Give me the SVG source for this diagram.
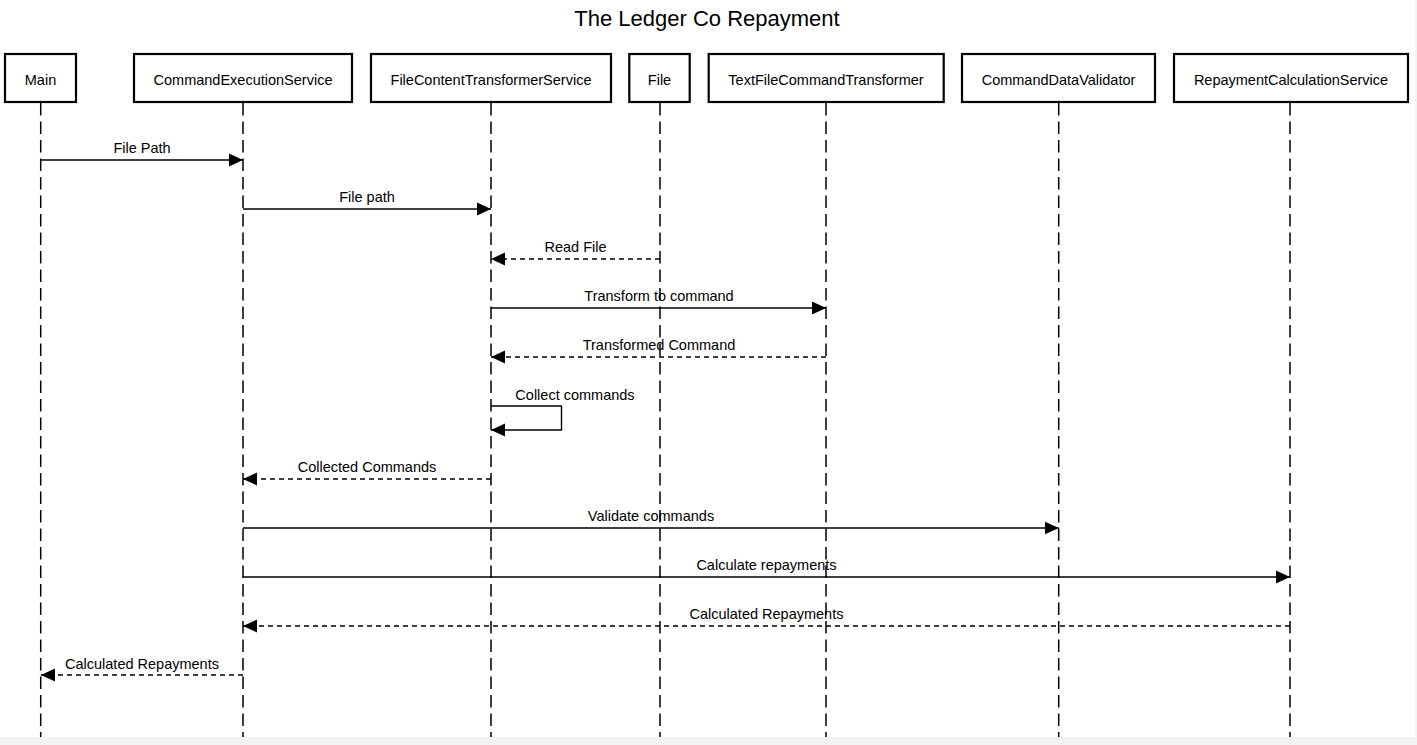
<svg xmlns="http://www.w3.org/2000/svg" width="1417" height="745" viewBox="0 0 1417 745">
<style>
text{font-family:"Liberation Sans",Arial,Helvetica,sans-serif;fill:#000}
.box{fill:#fff;stroke:#000;stroke-width:2.2}
.name{font-size:14.5px;text-anchor:middle}
.life{stroke:#000;stroke-width:1.5;stroke-dasharray:12.5 6;fill:none}
.msg{stroke:#000;stroke-width:1.4;fill:none}
.ret{stroke:#000;stroke-width:1.4;fill:none;stroke-dasharray:5 4}
.lbl{font-size:14.5px;text-anchor:middle}
</style>
<defs>
<marker id="ah" markerUnits="userSpaceOnUse" markerWidth="15" markerHeight="14" refX="14" refY="7" orient="auto">
<path d="M0,0.5 L14,7 L0,13.5 z" fill="#000"/>
</marker>
</defs>
<rect x="0" y="0" width="1417" height="745" fill="#fff"/>
<rect x="0" y="737" width="1417" height="8" fill="#f3f3f3"/>
<rect x="1415" y="0" width="2" height="737" fill="#f5f5f5"/>
<text x="707" y="26" font-size="22" text-anchor="middle">The Ledger Co Repayment</text>

<g id="lifelines">
<line class="life" x1="40.7" y1="103" x2="40.7" y2="737"/>
<line class="life" x1="243" y1="103" x2="243" y2="737"/>
<line class="life" x1="491" y1="103" x2="491" y2="737"/>
<line class="life" x1="660" y1="103" x2="660" y2="737"/>
<line class="life" x1="826" y1="103" x2="826" y2="737"/>
<line class="life" x1="1058.7" y1="103" x2="1058.7" y2="737"/>
<line class="life" x1="1290" y1="103" x2="1290" y2="737"/>
</g>

<g id="main"><rect class="box" x="5" y="54" width="71" height="48"/><text class="name" x="40.5" y="84.5">Main</text></g>
<g id="commandExecutionService"><rect class="box" x="134" y="54" width="218" height="48"/><text class="name" x="243" y="84.5">CommandExecutionService</text></g>
<g id="fileContentTransformerService"><rect class="box" x="371" y="54" width="240" height="48"/><text class="name" x="491" y="84.5">FileContentTransformerService</text></g>
<g id="file"><rect class="box" x="629.3" y="54" width="60.4" height="48"/><text class="name" x="659.5" y="84.5">File</text></g>
<g id="textFileCommandTransformer"><rect class="box" x="708.7" y="54" width="235" height="48"/><text class="name" x="826" y="84.5">TextFileCommandTransformer</text></g>
<g id="commandDataValidator"><rect class="box" x="962" y="54" width="193" height="48"/><text class="name" x="1058.5" y="84.5">CommandDataValidator</text></g>
<g id="repaymentCalculationService"><rect class="box" x="1174" y="54" width="234" height="48"/><text class="name" x="1291" y="84.5">RepaymentCalculationService</text></g>

<g id="connectors">
<line class="msg" x1="41" y1="160" x2="243" y2="160" marker-end="url(#ah)"/>
<text class="lbl" x="142" y="152.5">File Path</text>
<line class="msg" x1="243" y1="209" x2="491" y2="209" marker-end="url(#ah)"/>
<text class="lbl" x="367" y="202">File path</text>
<line class="ret" x1="660" y1="259" x2="491" y2="259" marker-end="url(#ah)"/>
<text class="lbl" x="575.5" y="251.5">Read File</text>
<line class="msg" x1="491" y1="308" x2="826" y2="308" marker-end="url(#ah)"/>
<text class="lbl" x="659" y="300.5">Transform to command</text>
<line class="ret" x1="826" y1="357" x2="491" y2="357" marker-end="url(#ah)"/>
<text class="lbl" x="659" y="349.5">Transformed Command</text>
<path class="msg" d="M491,406 H561.5 V430 H491" marker-end="url(#ah)"/>
<text class="lbl" x="575" y="400">Collect commands</text>
<line class="ret" x1="491" y1="479" x2="243" y2="479" marker-end="url(#ah)"/>
<text class="lbl" x="367" y="471.5">Collected Commands</text>
<line class="msg" x1="243" y1="528" x2="1058.7" y2="528" marker-end="url(#ah)"/>
<text class="lbl" x="651" y="520.5">Validate commands</text>
<line class="msg" x1="243" y1="577" x2="1290" y2="577" marker-end="url(#ah)"/>
<text class="lbl" x="766.5" y="569.5">Calculate repayments</text>
<line class="ret" x1="1290" y1="626" x2="243" y2="626" marker-end="url(#ah)"/>
<text class="lbl" x="766.5" y="618.5">Calculated Repayments</text>
<line class="ret" x1="243" y1="675" x2="41" y2="675" marker-end="url(#ah)"/>
<text class="lbl" x="142" y="668.5">Calculated Repayments</text>
</g>
</svg>
